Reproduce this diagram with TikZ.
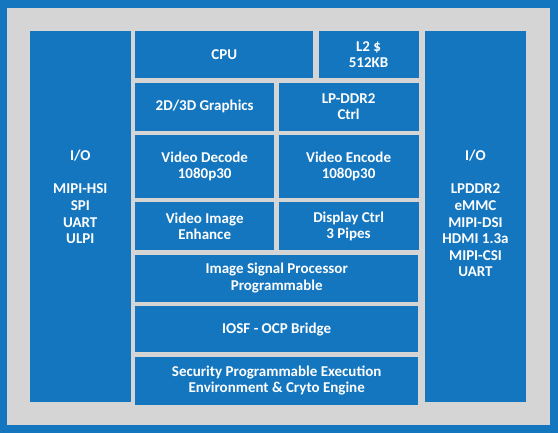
\documentclass[tikz,border=0pt]{standalone}
\usepackage{fontspec}
\setmainfont{Carlito}
\usepackage{tikz}
\usetikzlibrary{positioning}
\definecolor{chipblue}{RGB}{20,118,191}
\definecolor{chipgray}{RGB}{213,213,213}
\tikzset{
blk/.style={
  rectangle,
  inner sep=0pt,
  align=center,
  fill=chipblue,
  text=white,
  font=\fontsize{15}{16.6}\selectfont\bfseries
  },
txt/.style={
  inner sep=0pt,
  align=center,
  text=white,
  font=\fontsize{15}{16.6}\selectfont\bfseries
  }
}
\begin{document}
\begin{tikzpicture}[node distance=4pt]
    \useasboundingbox (0,0) rectangle (558pt,-433pt);
    \fill[chipblue] (0,0) rectangle (558pt,-433pt);
    \fill[chipgray] (7pt,-8pt) rectangle (550pt,-425pt);
    % core blocks
    \node[blk,minimum width=178pt,minimum height=47pt,anchor=north west] (cpu) at (135pt,-31pt) {CPU};
    \node[blk,minimum width=100pt,minimum height=47pt] (l2) [right=5pt of cpu] {L2 \$\\512KB};
    \node[blk,minimum width=139pt,minimum height=48pt] (gfx) [below=of cpu.south west,anchor=north west] {2D/3D Graphics};
    \node[blk,minimum width=140pt,minimum height=48pt] (ddr) [right=of gfx] {LP-DDR2\\Ctrl};
    \node[blk,minimum width=139pt,minimum height=63pt] (vdec) [below=of gfx] {Video Decode\\1080p30};
    \node[blk,minimum width=140pt,minimum height=63pt] (venc) [right=of vdec] {Video Encode\\1080p30};
    \node[blk,minimum width=139pt,minimum height=48pt] (vimg) [below=of vdec] {Video Image\\Enhance};
    \node[blk,minimum width=140pt,minimum height=48pt] (disp) [right=of vimg] {Display Ctrl\\3 Pipes};
    \node[blk,minimum width=283pt,minimum height=47pt] (isp) [below=of vimg.south west,anchor=north west] {Image Signal Processor\\Programmable};
    \node[blk,minimum width=283pt,minimum height=46pt] (iosf) [below=of isp] {IOSF - OCP Bridge};
    \node[blk,minimum width=283pt,minimum height=48pt] (sec) [below=of iosf] {Security Programmable Execution\\Environment \& Cryto Engine};
    % I/O columns
    \node[blk,minimum width=101pt,minimum height=371pt] (iol) [left=of cpu.north west,anchor=north east] {};
    \node[blk,minimum width=101pt,minimum height=371pt] (ior) [right=6pt of l2.north east,anchor=north west] {};
    \node[txt] (iolt) [below=119pt of iol.north] {I/O\\[16.6pt]MIPI-HSI\\SPI\\UART\\ULPI};
    \node[txt] (iort) [below=119pt of ior.north] {I/O\\[16.6pt]LPDDR2\\eMMC\\MIPI-DSI\\HDMI 1.3a\\MIPI-CSI\\UART};
\end{tikzpicture}
\end{document}
